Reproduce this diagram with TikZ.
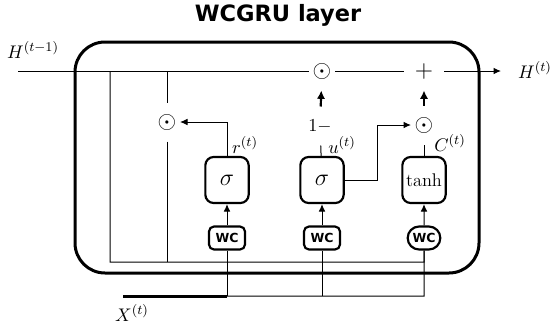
\documentclass[tikz,border=0pt]{standalone}
\usepackage{fontspec}
\setsansfont{DejaVu Sans}
\usepackage{amsmath}
\usetikzlibrary{arrows.meta, shapes.misc, positioning}

\tikzset{
  gate/.style={draw, line width=1.3pt, rounded corners=5pt, minimum width=26pt, minimum height=27.6pt, inner sep=1pt},
  wcbox/.style={draw, line width=1.3pt, rounded corners=3pt, minimum width=21.6pt, minimum height=13.8pt, inner sep=1pt, font=\sffamily\bfseries\fontsize{7.5}{8}\selectfont},
  wcpill/.style={wcbox, rounded rectangle, sharp corners},
  op/.style={inner xsep=2pt, inner ysep=1pt, minimum height=23pt, font=\fontsize{14}{16}\selectfont},
  wire/.style={line width=0.6pt},
  flow/.style={wire, -{Latex[length=4.5pt,width=4pt]}},
  bigflow/.style={line width=1.3pt, -{Latex[length=5pt,width=5pt]}},
}

\begin{document}
\begin{tikzpicture}[x=0.6pt, y=-0.6pt, font=\fontsize{11}{13}\selectfont]
  \useasboundingbox (0,0) rectangle (556,328);
  \node[font=\sffamily\bfseries\fontsize{13.5}{16}\selectfont] (title) at (278,15) {WCGRU layer};
  \draw[line width=1.8pt, rounded corners=18pt] (75,42) rectangle (479,273);

  % state line
  \coordinate (hin) at (18,71);
  \coordinate (hend) at (501,71);
  \node (hprev) at (33,50) {$H^{(t-1)}$};
  \node (hnext) at (535,70) {$H^{(t)}$};
  \node[op] (odH) at (322,71) {$\odot$};
  \node[op, minimum width=24pt] (plusH) at (424,71) {$+$};

  % gates
  \node[gate] (sr) at (227,180) {\Large$\sigma$};
  \node[gate] (su) at (322,180) {\Large$\sigma$};
  \node[gate] (sc) at (424,180) {$\tanh$};
  \node[wcbox] (wr) at (227,238) {WC};
  \node[wcbox] (wu) at (322,238) {WC};
  \node[wcpill] (wc) at (424,238) {WC};

  \node[op] (odr) at (167,122) {$\odot$};
  \node[op] (odc) at (424,125) {$\odot$};
  \node[op, font=\fontsize{11}{13}\selectfont] (onem) at (320,126) {$1-$};

  \node (rlab) at (245,145) {$r^{(t)}$};
  \node (ulab) at (342,145) {$u^{(t)}$};
  \node (clab) at (450,143) {$C^{(t)}$};
  \node (xlab) at (132,313) {$X^{(t)}$};

  \coordinate (tapA) at (110,71);
  \coordinate (tapB) at (167,71);
  \coordinate (hjoin) at (424,262);
  \coordinate (xin) at (123,296);
  \coordinate (xr) at (227,296);
  \coordinate (xc) at (424,296);

  % connections
  \draw[wire] (hin) -- (odH);
  \draw[wire] (odH) -- (plusH);
  \draw[flow] (plusH) -- (hend);
  \draw[wire] (tapA) |- (hjoin) -- (wc);
  \draw[wire] (tapB) -- (odr);
  \draw[wire] (odr) -- (odr |- hjoin);
  \draw[flow] (sr.north) |- (odr.east);
  \draw[wire] (su) -- (onem);
  \draw[bigflow] (onem) -- (odH);
  \draw[flow] (su.east) -- ++(33,0) |- (odc.west);
  \draw[wire] (sc) -- (odc);
  \draw[bigflow] (odc) -- (plusH);
  \foreach \g in {r,u,c}
    \draw[flow] (w\g) -- (s\g);

  \draw[line width=1.8pt] (xin) -- (xr);
  \draw[wire] (xr) -- (xc) -- (wc);
  \draw[wire] (xr) -- (wr);
  \draw[wire] (wu |- xr) -- (wu);
\end{tikzpicture}
\end{document}
